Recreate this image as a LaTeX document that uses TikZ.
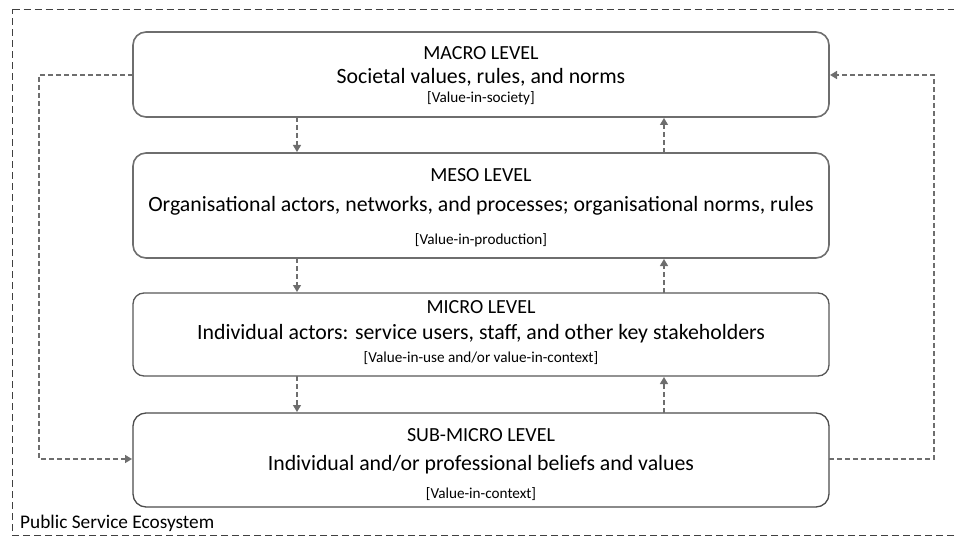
\documentclass[tikz,border=0pt]{standalone}
\usepackage{fontspec}
\setmainfont{Carlito}
\usetikzlibrary{arrows.meta}
\definecolor{lc}{HTML}{6E6E6E}
\tikzset{
  lvl/.style={draw=lc, line width=1.6pt, rounded corners=13pt, fill=white},
  conn/.style={draw=lc, line width=1.6pt, dash pattern=on 5pt off 3pt, -{Triangle[length=7pt,width=8pt]}},
  hd/.style={font=\fontsize{20}{24}\selectfont, anchor=center},
  mn/.style={font=\fontsize{21.8}{26}\selectfont, anchor=center},
  br/.style={font=\fontsize{15.2}{18}\selectfont, anchor=center},
}
\begin{document}
\begin{tikzpicture}[x=1pt,y=-1pt]
\useasboundingbox (0,0) rectangle (955,537);
\draw[black!75, line width=1.2pt, dash pattern=on 7pt off 4pt] (12.5,9.5) -- (954,9.5) (954,535.5) -- (12.5,535.5) -- (12.5,9.5);
\node[font=\fontsize{19.3}{22}\selectfont, anchor=west, inner sep=0pt] (pse) at (20,523) {Public Service Ecosystem};

\coordinate (macroNW) at (133,32); \coordinate (macroSE) at (829,117);
\coordinate (mesoNW) at (133,153); \coordinate (mesoSE) at (829,258);
\coordinate (microNW) at (133,293); \coordinate (microSE) at (829,376);
\coordinate (subNW) at (133,413); \coordinate (subSE) at (829,507);

\draw[lvl] (macroNW) rectangle (macroSE);
\draw[lvl] (mesoNW) rectangle (mesoSE);
\draw[lvl, line width=1.3pt, draw=lc!80!black, rounded corners=11pt] (microNW) rectangle (microSE);
\draw[lvl, line width=1.3pt, draw=black!70, rounded corners=13pt] (subNW) rectangle (subSE);

\node[hd] (mah) at (481,53) {MACRO LEVEL};
\node[mn] (mam) at (481,77) {Societal values, rules, and norms};
\node[br] (mab) at (481,98) {[Value-in-society]};

\node[hd] (meh) at (481,175) {MESO LEVEL};
\node[mn] (mem) at (481,206) {Organisational actors, networks, and processes; organisational norms, rules};
\node[br] (meb) at (481,240) {[Value-in-production]};

\node[hd] (mih) at (481,307) {MICRO LEVEL};
\node[mn] (mim) at (481,334) {Individual actors: service users, staff, and other key stakeholders};
\node[br] (mib) at (481,358) {[Value-in-use and/or value-in-context]};

\node[hd] (suh) at (481,435) {SUB-MICRO LEVEL};
\node[mn] (sum) at (481,465) {Individual and/or professional beliefs and values};
\node[br] (sub) at (481,494) {[Value-in-context]};

% down arrows
\coordinate (d1a) at (297,117); \coordinate (d1b) at (297,152);
\coordinate (d2a) at (297,258); \coordinate (d2b) at (297,292);
\coordinate (d3a) at (297,376); \coordinate (d3b) at (297,412);
\draw[conn, line width=1.2pt] (d1a) -- (d1b);
\draw[conn, line width=1.2pt] (d2a) -- (d2b);
\draw[conn, line width=1.2pt] (d3a) -- (d3b);
% up arrows
\coordinate (u1a) at (664,153); \coordinate (u1b) at (664,118);
\coordinate (u2a) at (664,293); \coordinate (u2b) at (664,259);
\coordinate (u3a) at (664,413); \coordinate (u3b) at (664,377);
\draw[conn, line width=1.2pt] (u1a) -- (u1b);
\draw[conn, line width=1.2pt] (u2a) -- (u2b);
\draw[conn, line width=1.2pt] (u3a) -- (u3b);

% feedback loops
\coordinate (lA) at (133,75); \coordinate (lB) at (39,75); \coordinate (lC) at (39,459); \coordinate (lD) at (132,459);
\draw[conn] (lA) -- (lB) -- (lC) -- (lD);
\coordinate (rA) at (829,459); \coordinate (rB) at (934,459); \coordinate (rC) at (934,75); \coordinate (rD) at (830,75);
\draw[conn] (rA) -- (rB) -- (rC) -- (rD);
\end{tikzpicture}
\end{document}
